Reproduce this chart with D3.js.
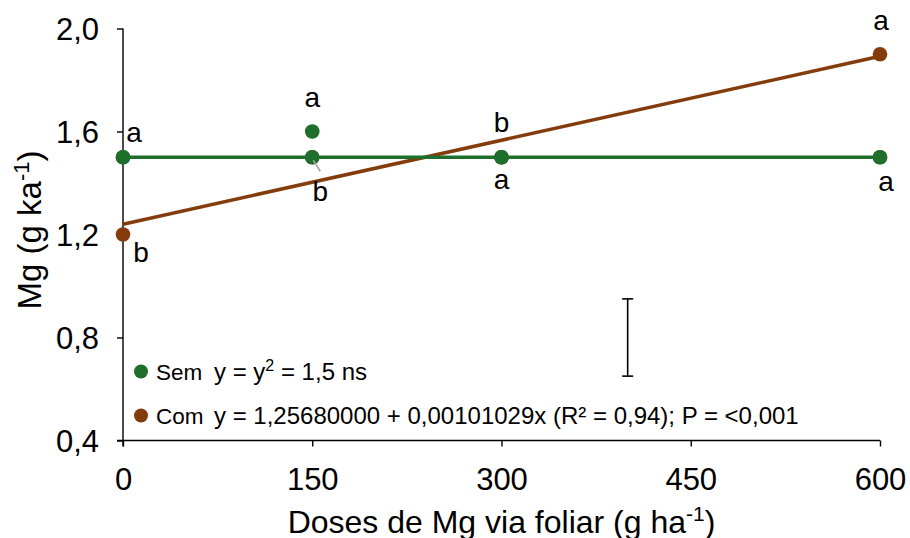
<!DOCTYPE html>
<html><head><meta charset="utf-8">
<script src="https://cdn.jsdelivr.net/npm/d3@7"></script>
<style>body{margin:0;background:#fff}svg{display:block;font-family:"Liberation Sans",Arial,sans-serif}</style>
</head><body><svg id="c" width="910" height="538"></svg>
<script>
// ---- data ----
const doses = [0, 150, 300, 600];
const xTicks = [0, 150, 300, 450, 600];
const yTicks = [0.4, 0.8, 1.2, 1.6, 2.0];
const yTickLabels = ["0,4", "0,8", "1,2", "1,6", "2,0"];
const semValues = [1.5, 1.6, 1.5, 1.5];
const semFit = [1.5, 1.5, 1.5, 1.5];
const comValues = [1.2, 1.5, 1.5, 1.9];
const comFitX = [0, 600];
const comFitY = [1.24, 1.892];
const semLetters = ["a", "a", "a", "a"];
const comLetters = ["b", "b", "b", "a"];
const errX = 400;
const errY = [0.65, 0.95];
const legendSem = "Sem", legendCom = "Com";
const eqCom = "y = 1,25680000 + 0,00101029x (R² = 0,94); P = <0,001";

// ---- style ----
const GREEN = "#1E6E2C", BROWN = "#843C0C";
const svg = d3.select("#c");
const x = d3.scaleLinear().domain([0, 600]).range([123, 880]);
const y = d3.scaleLinear().domain([0.4, 2.0]).range([440.5, 28.5]);

// axes
const yAxis = d3.axisLeft(y).tickValues(yTicks).tickSize(6).tickFormat((d, i) => yTickLabels[i]);
const gy = svg.append("g").attr("transform", `translate(${x(0)},0)`).call(yAxis);
gy.select(".domain").attr("d", `M0,${y(2.0)}V${y(0.4) + 6}`);
gy.selectAll("text").attr("font-size", 31).attr("fill", "#000").attr("x", -24).attr("dy", "0.35em");
const xAxis = d3.axisBottom(x).tickValues(xTicks).tickSize(6).tickFormat(d3.format("d"));
const gx = svg.append("g").attr("transform", `translate(0,${y(0.4)})`).call(xAxis);
gx.select(".domain").attr("d", `M${x(0) - 6},0H${x(600)}`);
gx.selectAll("text").attr("font-size", 31).attr("fill", "#000").attr("y", 49).attr("dy", 0);
svg.selectAll(".domain, .tick line").attr("stroke", "#000").attr("stroke-width", 1.4);
svg.selectAll(".tick text").attr("font-family", "Liberation Sans, Arial, sans-serif");

// axis titles
const xt = svg.append("text").attr("x", (x(0) + x(600)) / 2).attr("y", 533)
  .attr("text-anchor", "middle").attr("font-size", 32);
xt.append("tspan").text("Doses de Mg via foliar (g ha");
xt.append("tspan").text("-1").attr("font-size", 21).attr("dy", -12);
xt.append("tspan").text(")").attr("dy", 12);

const yt = svg.append("text").attr("transform", `translate(41,230) rotate(-90)`)
  .attr("text-anchor", "middle").attr("font-size", 33);
yt.append("tspan").text("Mg (g ka");
yt.append("tspan").text("-1").attr("font-size", 22).attr("dy", -12);
yt.append("tspan").text(")").attr("dy", 12);

// error bar
const eb = svg.append("g").attr("stroke", "#000").attr("stroke-width", 1.6);
eb.append("line").attr("x1", x(errX)).attr("x2", x(errX)).attr("y1", y(errY[0])).attr("y2", y(errY[1]));
errY.forEach(v => eb.append("line").attr("x1", x(errX) - 5.5).attr("x2", x(errX) + 5.5).attr("y1", y(v)).attr("y2", y(v)));

// com fit line
const line = d3.line().x(d => x(d[0])).y(d => y(d[1]));
svg.append("path").datum(comFitX.map((d, i) => [d, comFitY[i]])).attr("d", line)
  .attr("fill", "none").attr("stroke", BROWN).attr("stroke-width", 3.5);
// com points
svg.selectAll(".com").data(doses).enter().append("circle")
  .attr("cx", d => x(d)).attr("cy", (d, i) => y(comValues[i])).attr("r", 7.3).attr("fill", BROWN);
// sem fit line with markers
svg.append("path").datum(doses.map((d, i) => [d, semFit[i]])).attr("d", line)
  .attr("fill", "none").attr("stroke", GREEN).attr("stroke-width", 3.5);
svg.selectAll(".semf").data(doses).enter().append("circle")
  .attr("cx", d => x(d)).attr("cy", (d, i) => y(semFit[i])).attr("r", 7.3).attr("fill", GREEN);
svg.selectAll(".sem").data(doses).enter().append("circle")
  .attr("cx", d => x(d)).attr("cy", (d, i) => y(semValues[i])).attr("r", 7.3).attr("fill", GREEN);

// leader line for com label at 150
svg.append("line").attr("x1", x(150) + 1).attr("y1", y(comValues[1]) + 3)
  .attr("x2", x(150) + 8).attr("y2", y(comValues[1]) + 14)
  .attr("stroke", "#A6A6A6").attr("stroke-width", 1.6);

// letters
const semOff = [[11, -15], [0, -25], [0, 32], [6, 34]];
const comOff = [[18, 27], [8, 44], [0, -25], [1, -24]];
const lab = svg.append("g").attr("font-size", 28).attr("text-anchor", "middle").attr("fill", "#000");
doses.forEach((d, i) => {
  lab.append("text").attr("x", x(d) + semOff[i][0]).attr("y", y(semValues[i]) + semOff[i][1]).text(semLetters[i]);
  lab.append("text").attr("x", x(d) + comOff[i][0]).attr("y", y(comValues[i]) + comOff[i][1]).text(comLetters[i]);
});

// legend
const lg = svg.append("g").attr("font-size", 24);
lg.append("circle").attr("cx", 141).attr("cy", 371.5).attr("r", 7).attr("fill", GREEN);
lg.append("circle").attr("cx", 141).attr("cy", 415.5).attr("r", 7).attr("fill", BROWN);
lg.append("text").attr("x", 156).attr("y", 380).attr("font-size", 22.5).text(legendSem);
lg.append("text").attr("x", 156).attr("y", 423.5).attr("font-size", 22.5).text(legendCom);
const es = lg.append("text").attr("x", 214).attr("y", 380);
es.append("tspan").text("y = y");
es.append("tspan").text("2").attr("font-size", 16).attr("dy", -9);
es.append("tspan").text(" = 1,5 ns").attr("dy", 9);
lg.append("text").attr("x", 214).attr("y", 423.5).text(eqCom);
</script></body></html>
